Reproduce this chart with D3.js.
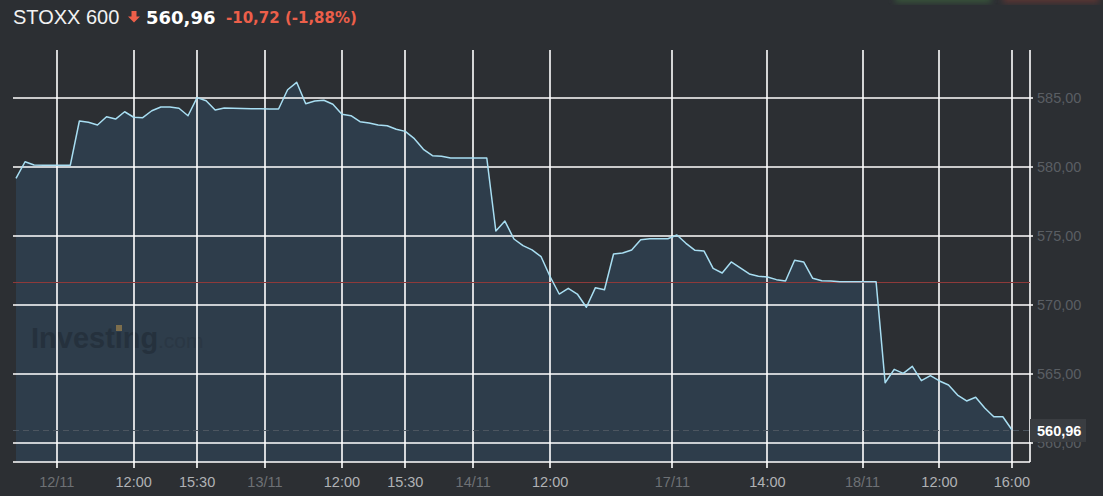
<!DOCTYPE html>
<html><head><meta charset="utf-8">
<script src="https://cdn.jsdelivr.net/npm/d3@7"></script>
<style>
html,body{margin:0;padding:0;background:#2c2f33;}
svg{display:block;}
</style></head>
<body>
<svg id="chart" width="1103" height="496"></svg>
<script>
// ---- data ----
const title = "STOXX 600";
const lastValue = "560,96";
const changeText = "-10,72 (-1,88%)";
const prevClose = 571.68;
const lastPrice = 560.96;
const values = [
 579.15,580.35,580.12,580.10,580.10,580.10,580.10,583.30,583.21,583.01,
 583.61,583.44,583.97,583.57,583.54,584.04,584.31,584.31,584.22,583.68,
 584.99,584.77,584.10,584.24,584.22,584.20,584.19,584.18,584.17,584.17,
 585.56,586.10,584.55,584.75,584.80,584.51,583.78,583.68,583.25,583.15,
 583.01,582.96,582.70,582.55,582.02,581.25,580.79,580.75,580.62,580.62,
 580.62,580.62,580.62,575.34,576.06,574.76,574.28,573.97,573.48,572.03,
 570.78,571.19,570.78,569.82,571.24,571.09,573.68,573.75,573.97,574.71,
 574.78,574.78,574.78,575.05,574.45,573.94,573.89,572.64,572.30,573.10,
 572.68,572.23,572.06,572.01,571.82,571.72,573.22,573.10,571.92,571.74,
 571.72,571.67,571.67,571.67,571.67,571.67,564.36,565.33,565.04,565.55,
 564.51,564.87,564.49,564.20,563.47,563.04,563.31,562.53,561.90,561.90,
 560.96
];
const xTickIdx    = [4.5, 13, 20, 27.5, 36, 43, 50.5, 59, 72.5, 83, 93.5, 102, 110];
const xTickLabels = ["12/11","12:00","15:30","13/11","12:00","15:30","14/11","12:00","17/11","14:00","18/11","12:00","16:00"];
const xTickIsDate = [true,false,false,true,false,false,true,false,true,false,true,false,false];
const yTicks = [560, 565, 570, 575, 580, 585];
const yTickLabels = ["560,00","565,00","570,00","575,00","580,00","585,00"];

// ---- layout ----
const svg = d3.select("#chart");
const L = 13, R = 1030, T = 50, B = 462;
const x = d3.scaleLinear().domain([0, 112]).range([16, 1030]);
const y = d3.scaleLinear().domain([560, 585]).range([443, 97.5]);

// blurred buttons top-right
const defs = svg.append("defs");
defs.append("filter").attr("id","blur").append("feGaussianBlur").attr("stdDeviation",3);
defs.append("clipPath").attr("id","lblclip").append("rect")
  .attr("x",1030).attr("y",442).attr("width",73).attr("height",30);
svg.append("rect").attr("x",895).attr("y",-8).attr("width",96).attr("height",11)
  .attr("fill","#3f6a40").attr("opacity",0.6).attr("filter","url(#blur)");
svg.append("rect").attr("x",1003).attr("y",-8).attr("width",96).attr("height",11)
  .attr("fill","#7a3a34").attr("opacity",0.6).attr("filter","url(#blur)");

// area
const area = d3.area().x((d,i)=>x(i)).y0(B).y1(d=>y(d));
svg.append("path").datum(values).attr("d",area).attr("fill","#2e3d4b");

// watermark
const wm = svg.append("g");
wm.append("text").attr("x",31).attr("y",348).attr("font-family","Liberation Sans, Arial, sans-serif")
  .attr("font-weight","bold").attr("font-size",29).attr("fill","#25313d").text("Investing");
wm.append("text").attr("x",158).attr("y",348).attr("font-family","Liberation Sans, Arial, sans-serif")
  .attr("font-size",21).attr("fill","#2a3744").text(".com");
wm.append("rect").attr("x",116).attr("y",325).attr("width",6).attr("height",6).attr("fill","#7d6e4c");

// horizontal gridlines
svg.append("g").selectAll("line").data(yTicks).join("line")
  .attr("x1",L).attr("x2",R+3).attr("y1",d=>Math.round(y(d))).attr("y2",d=>Math.round(y(d)))
  .attr("stroke","#ffffff").attr("stroke-width",1.6);

// vertical gridlines
svg.append("g").selectAll("line").data(xTickIdx).join("line")
  .attr("x1",d=>Math.round(x(d))).attr("x2",d=>Math.round(x(d)))
  .attr("y1",T).attr("y2",B+6)
  .attr("stroke","#ffffff").attr("stroke-width",1.6);

// bottom axis line & right border
svg.append("line").attr("x1",L).attr("x2",R).attr("y1",B).attr("y2",B)
  .attr("stroke","#ffffff").attr("stroke-width",1.6);
svg.append("line").attr("x1",R).attr("x2",R).attr("y1",T).attr("y2",B)
  .attr("stroke","#ffffff").attr("stroke-width",1.6);

// previous close line
svg.append("line").attr("x1",L).attr("x2",R).attr("y1",Math.round(y(prevClose))+0.5).attr("y2",Math.round(y(prevClose))+0.5)
  .attr("stroke","#8e3a3a").attr("stroke-width",1);
// last price dashed line
svg.append("line").attr("x1",L).attr("x2",R).attr("y1",Math.round(y(lastPrice))+0.5).attr("y2",Math.round(y(lastPrice))+0.5)
  .attr("stroke","#4d5660").attr("stroke-width",1).attr("stroke-dasharray","6,4");

// price line
const line = d3.line().x((d,i)=>x(i)).y(d=>y(d));
svg.append("path").datum(values).attr("d",line).attr("fill","none")
  .attr("stroke","#a8def2").attr("stroke-width",1.5).attr("stroke-linejoin","round");

// y labels (the 560,00 label is partly covered by the price box, as in the reference)
svg.append("g").selectAll("text").data(yTicks).join("text")
  .attr("x",1037).attr("y",d=>y(d)).attr("dy","0.36em")
  .attr("font-family","Liberation Sans, Arial, sans-serif").attr("font-size",14.5)
  .attr("fill","#5a5e63")
  .attr("clip-path",(d)=> d===560 ? "url(#lblclip)" : null)
  .text((d,i)=>yTickLabels[i]);

// x labels
svg.append("g").selectAll("text").data(xTickIdx).join("text")
  .attr("x",d=>x(d)).attr("y",487).attr("text-anchor","middle")
  .attr("font-family","Liberation Sans, Arial, sans-serif").attr("font-size",14.5)
  .attr("fill",(d,i)=>xTickIsDate[i] ? "#6e7175" : "#b0b2b5").text((d,i)=>xTickLabels[i]);

// last price label box
svg.append("rect").attr("x",1030).attr("y",419).attr("width",56).attr("height",23).attr("fill","#3a3d41");
svg.append("text").attr("x",1037).attr("y",436).attr("font-family","Liberation Sans, Arial, sans-serif")
  .attr("font-weight","bold").attr("font-size",14.5).attr("fill","#ffffff").text(lastValue);

// header
svg.append("text").attr("x",13).attr("y",24).attr("font-family","Liberation Sans, Arial, sans-serif")
  .attr("font-size",20).attr("fill","#f2f2f2").text(title);
svg.append("path").attr("d","M131.5,11 h5 v5.5 h3.5 l-6,6 l-6,-6 h3.5 z").attr("fill","#ec5f4a");
svg.append("text").attr("x",146).attr("y",24).attr("font-family","DejaVu Sans, sans-serif")
  .attr("font-weight","bold").attr("font-size",18).attr("fill","#ffffff").text(lastValue);
svg.append("text").attr("x",226).attr("y",23).attr("font-family","DejaVu Sans, sans-serif")
  .attr("font-weight","bold").attr("font-size",15).attr("fill","#ec5f4a").text(changeText);
</script>
</body></html>
